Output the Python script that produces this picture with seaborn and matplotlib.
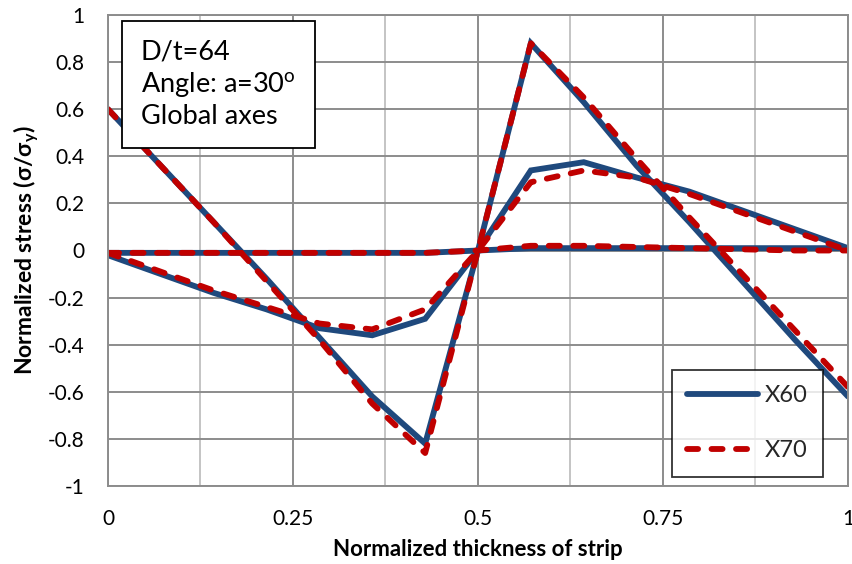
import matplotlib
matplotlib.use("Agg")
import matplotlib.pyplot as plt
import seaborn as sns
import pandas as pd
from matplotlib.lines import Line2D

# ---- data ----
thickness = [0.0, 0.0714, 0.1429, 0.2143, 0.2857, 0.3571, 0.4286, 0.5,
             0.5714, 0.6429, 0.7143, 0.7857, 0.8571, 0.9286, 1.0]

x60_outer = [0.60, 0.36, 0.12, -0.12, -0.37, -0.62, -0.82, 0.00,
             0.88, 0.63, 0.36, 0.12, -0.13, -0.38, -0.62]
x70_outer = [0.60, 0.36, 0.12, -0.13, -0.38, -0.65, -0.86, 0.00,
             0.88, 0.65, 0.39, 0.14, -0.10, -0.34, -0.58]

x60_mid = [-0.02, -0.10, -0.18, -0.25, -0.33, -0.36, -0.29, 0.00,
           0.34, 0.375, 0.31, 0.25, 0.17, 0.09, 0.01]
x70_mid = [-0.01, -0.09, -0.17, -0.24, -0.31, -0.335, -0.25, 0.00,
           0.29, 0.34, 0.31, 0.24, 0.16, 0.08, 0.00]

x60_flat = [-0.01, -0.01, -0.01, -0.01, -0.01, -0.01, -0.01, 0.00,
            0.01, 0.01, 0.01, 0.01, 0.01, 0.01, 0.01]
x70_flat = [-0.01, -0.01, -0.01, -0.01, -0.01, -0.01, -0.01, 0.00,
            0.02, 0.02, 0.015, 0.01, 0.005, 0.00, 0.00]

series_names = ["X60", "X70"]
x_ticks = [0, 0.25, 0.5, 0.75, 1]
x_tick_labels = ["0", "0.25", "0.5", "0.75", "1"]
y_ticks = [1, 0.8, 0.6, 0.4, 0.2, 0, -0.2, -0.4, -0.6, -0.8, -1]
y_tick_labels = ["1", "0.8", "0.6", "0.4", "0.2", "0", "-0.2", "-0.4", "-0.6", "-0.8", "-1"]

rows = []
for name, curves in [("X60", [x60_outer, x60_mid, x60_flat]),
                     ("X70", [x70_outer, x70_mid, x70_flat])]:
    for ci, vals in enumerate(curves):
        for xv, yv in zip(thickness, vals):
            rows.append({"x": xv, "stress": yv, "series": name, "curve": ci})
df = pd.DataFrame(rows)

# ---- style ----
sns.set_theme(style="white")
plt.rcParams["font.family"] = ["Lato", "DejaVu Sans"]
plt.rcParams["axes.unicode_minus"] = False
plt.rcParams["mathtext.fontset"] = "custom"
plt.rcParams["mathtext.rm"] = "Lato"
plt.rcParams["mathtext.bf"] = "Lato:bold"
plt.rcParams["mathtext.it"] = "Lato:italic"

blue = "#1F497D"
red = "#C00000"
grid_dark = "#8C8C8C"
grid_light = "#C4C4C4"
LW = 4.2
DASH = (1.9, 2.3)

fig = plt.figure(figsize=(8.53, 5.64), dpi=100)
ax = fig.add_axes([108 / 853, 1 - 486 / 564, 740 / 853, 471 / 564])

sns.lineplot(data=df, x="x", y="stress", hue="series", style="series",
             units="curve", estimator=None, sort=False,
             palette={"X60": blue, "X70": red},
             dashes={"X60": "", "X70": DASH},
             linewidth=LW, dash_capstyle="round", solid_joinstyle="miter",
             ax=ax, legend=False)

ax.set_xlim(0, 1)
ax.set_ylim(-1, 1)
ax.set_xticks(x_ticks)
ax.set_xticklabels(x_tick_labels)
ax.set_xticks([0.125, 0.375, 0.625, 0.875], minor=True)
ax.set_yticks(y_ticks)
ax.set_yticklabels(y_tick_labels)

ax.grid(which="major", axis="both", color=grid_dark, linewidth=1.4)
ax.grid(which="minor", axis="x", color=grid_light, linewidth=1.4)
ax.set_axisbelow(True)
for s in ax.spines.values():
    s.set_color(grid_dark)
    s.set_linewidth(1.4)

ax.tick_params(axis="both", which="major", direction="out", length=5.8,
               width=1.4, color=grid_dark, labelsize=15, labelcolor="black")
ax.tick_params(axis="x", which="major", pad=11)
ax.tick_params(axis="y", which="major", pad=11)
ax.tick_params(axis="x", which="minor", length=0)

ax.set_xlabel("Normalized thickness of strip", fontsize=16, fontweight="bold",
              color="black", labelpad=7)
ax.set_ylabel("Normalized stress (σ/σ$_{\\mathbf{y}}$)", fontsize=16.5,
              fontweight="bold", color="black", labelpad=5)

# annotation box
ax.text(0.0445, 0.948, "D/t=64\nAngle: a=30$^{\\mathrm{o}}$\nGlobal axes",
        transform=ax.transAxes, fontsize=19.5, va="top", ha="left",
        linespacing=1.24, color="black",
        bbox=dict(boxstyle="square,pad=0.7", facecolor="white",
                  edgecolor="black", linewidth=1.3))

handles = [Line2D([0], [0], color=blue, lw=LW, solid_capstyle="round"),
           Line2D([0], [0], color=red, lw=LW, dashes=DASH,
                  dash_capstyle="round")]
leg = ax.legend(handles, series_names, loc="lower right",
                bbox_to_anchor=(0.9665, 0.02), fontsize=17, frameon=True,
                fancybox=False, edgecolor="black", handlelength=3.0,
                labelspacing=1.45, borderpad=0.65, handletextpad=0.3,
                borderaxespad=0)
leg.get_frame().set_linewidth(1.3)

fig.savefig("out.png", dpi=100)
